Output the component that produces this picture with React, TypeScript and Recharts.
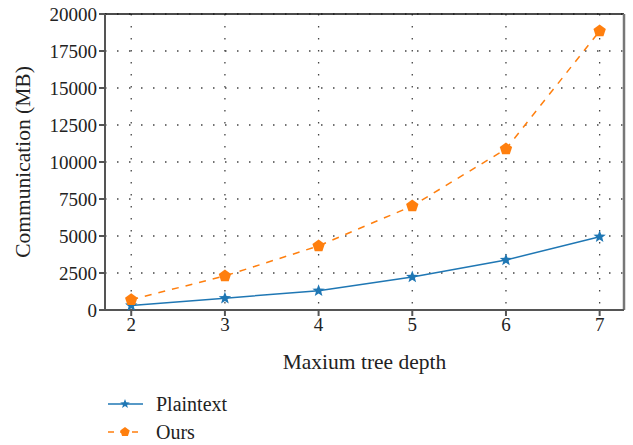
import { ComposedChart, Line, XAxis, YAxis, CartesianGrid, ReferenceLine } from "recharts";

const depths = [2, 3, 4, 5, 6, 7];
const plaintext = [300, 800, 1300, 2230, 3380, 4950];
const ours = [700, 2300, 4330, 7030, 10880, 18850];
const yTicks = [0, 2500, 5000, 7500, 10000, 12500, 15000, 17500, 20000];

const BLUE = "#1f77b4";
const ORANGE = "#ff7f0e";
const FONT = "'Liberation Serif', 'Times New Roman', serif";

const data = depths.map((d, i) => ({ depth: d, plaintext: plaintext[i], ours: ours[i] }));

function starPath(cx: number, cy: number, r: number) {
  const pts: string[] = [];
  for (let i = 0; i < 10; i++) {
    const rad = i % 2 === 0 ? r : r * 0.42;
    const a = -Math.PI / 2 + (i * Math.PI) / 5;
    pts.push(`${cx + rad * Math.cos(a)},${cy + rad * Math.sin(a)}`);
  }
  return `M${pts.join("L")}Z`;
}

function pentPath(cx: number, cy: number, r: number) {
  const pts: string[] = [];
  for (let i = 0; i < 5; i++) {
    const a = -Math.PI / 2 + (i * 2 * Math.PI) / 5;
    pts.push(`${cx + r * Math.cos(a)},${cy + r * Math.sin(a)}`);
  }
  return `M${pts.join("L")}Z`;
}

const StarDot = (props: any) => {
  const { cx, cy, index } = props;
  return <path key={`s-${index}`} d={starPath(cx, cy, 6.5)} fill={BLUE} />;
};

const PentDot = (props: any) => {
  const { cx, cy, index } = props;
  return <path key={`p-${index}`} d={pentPath(cx, cy, 6.5)} fill={ORANGE} />;
};

const LegendBox = () => (
  <svg width={200} height={60} style={{ position: "absolute", left: 90, top: 390 }}>
    <line x1={18} y1={14} x2={53} y2={14} stroke={BLUE} strokeWidth={1.5} />
    <path d={starPath(35, 14, 5)} fill={BLUE} />
    <text x={66} y={21} fontSize={20} fontFamily={FONT} fill="#222">Plaintext</text>
    <line x1={18} y1={42} x2={53} y2={42} stroke={ORANGE} strokeWidth={1.5} strokeDasharray="6 6" />
    <path d={pentPath(35, 42, 5)} fill={ORANGE} />
    <text x={66} y={49} fontSize={20} fontFamily={FONT} fill="#222">Ours</text>
  </svg>
);

export default function App() {
  return (
    <div style={{ position: "absolute", left: 0, top: 0, width: 633, height: 445, background: "#fff" }}>
      <ComposedChart width={633} height={445} data={data} margin={{ top: 14, right: 9, left: 0, bottom: 70 }}>
        <CartesianGrid stroke="#444" strokeDasharray="1.5 10.5" strokeWidth={1.3} />
        <XAxis
          dataKey="depth"
          type="number"
          domain={[1.72, 7.26]}
          ticks={depths}
          stroke="#555"
          strokeWidth={2}
          tickSize={6}
          tick={{ fill: "#222", fontSize: 19, fontFamily: FONT }}
          height={65}
          label={{ value: "Maxium tree depth", position: "insideBottom", offset: 6, fill: "#222", fontSize: 21.5, fontFamily: FONT }}
        />
        <YAxis
          type="number"
          domain={[0, 20000]}
          ticks={yTicks}
          stroke="#555"
          strokeWidth={2}
          tickSize={6}
          width={105}
          tick={{ fill: "#222", fontSize: 19, fontFamily: FONT }}
          label={{ value: "Communication (MB)", angle: -90, position: "insideLeft", offset: 22, fill: "#222", fontSize: 21.5, fontFamily: FONT, style: { textAnchor: "middle" } }}
        />
        <ReferenceLine y={20000} stroke="#111" strokeWidth={1.5} />
        <ReferenceLine x={7.26} stroke="#777" strokeWidth={2.5} />
        <Line
          dataKey="plaintext"
          stroke={BLUE}
          strokeWidth={1.5}
          dot={StarDot}
          isAnimationActive={false}
        />
        <Line
          dataKey="ours"
          stroke={ORANGE}
          strokeWidth={1.5}
          strokeDasharray="7 7"
          dot={PentDot}
          isAnimationActive={false}
        />
      </ComposedChart>
      <LegendBox />
    </div>
  );
}
